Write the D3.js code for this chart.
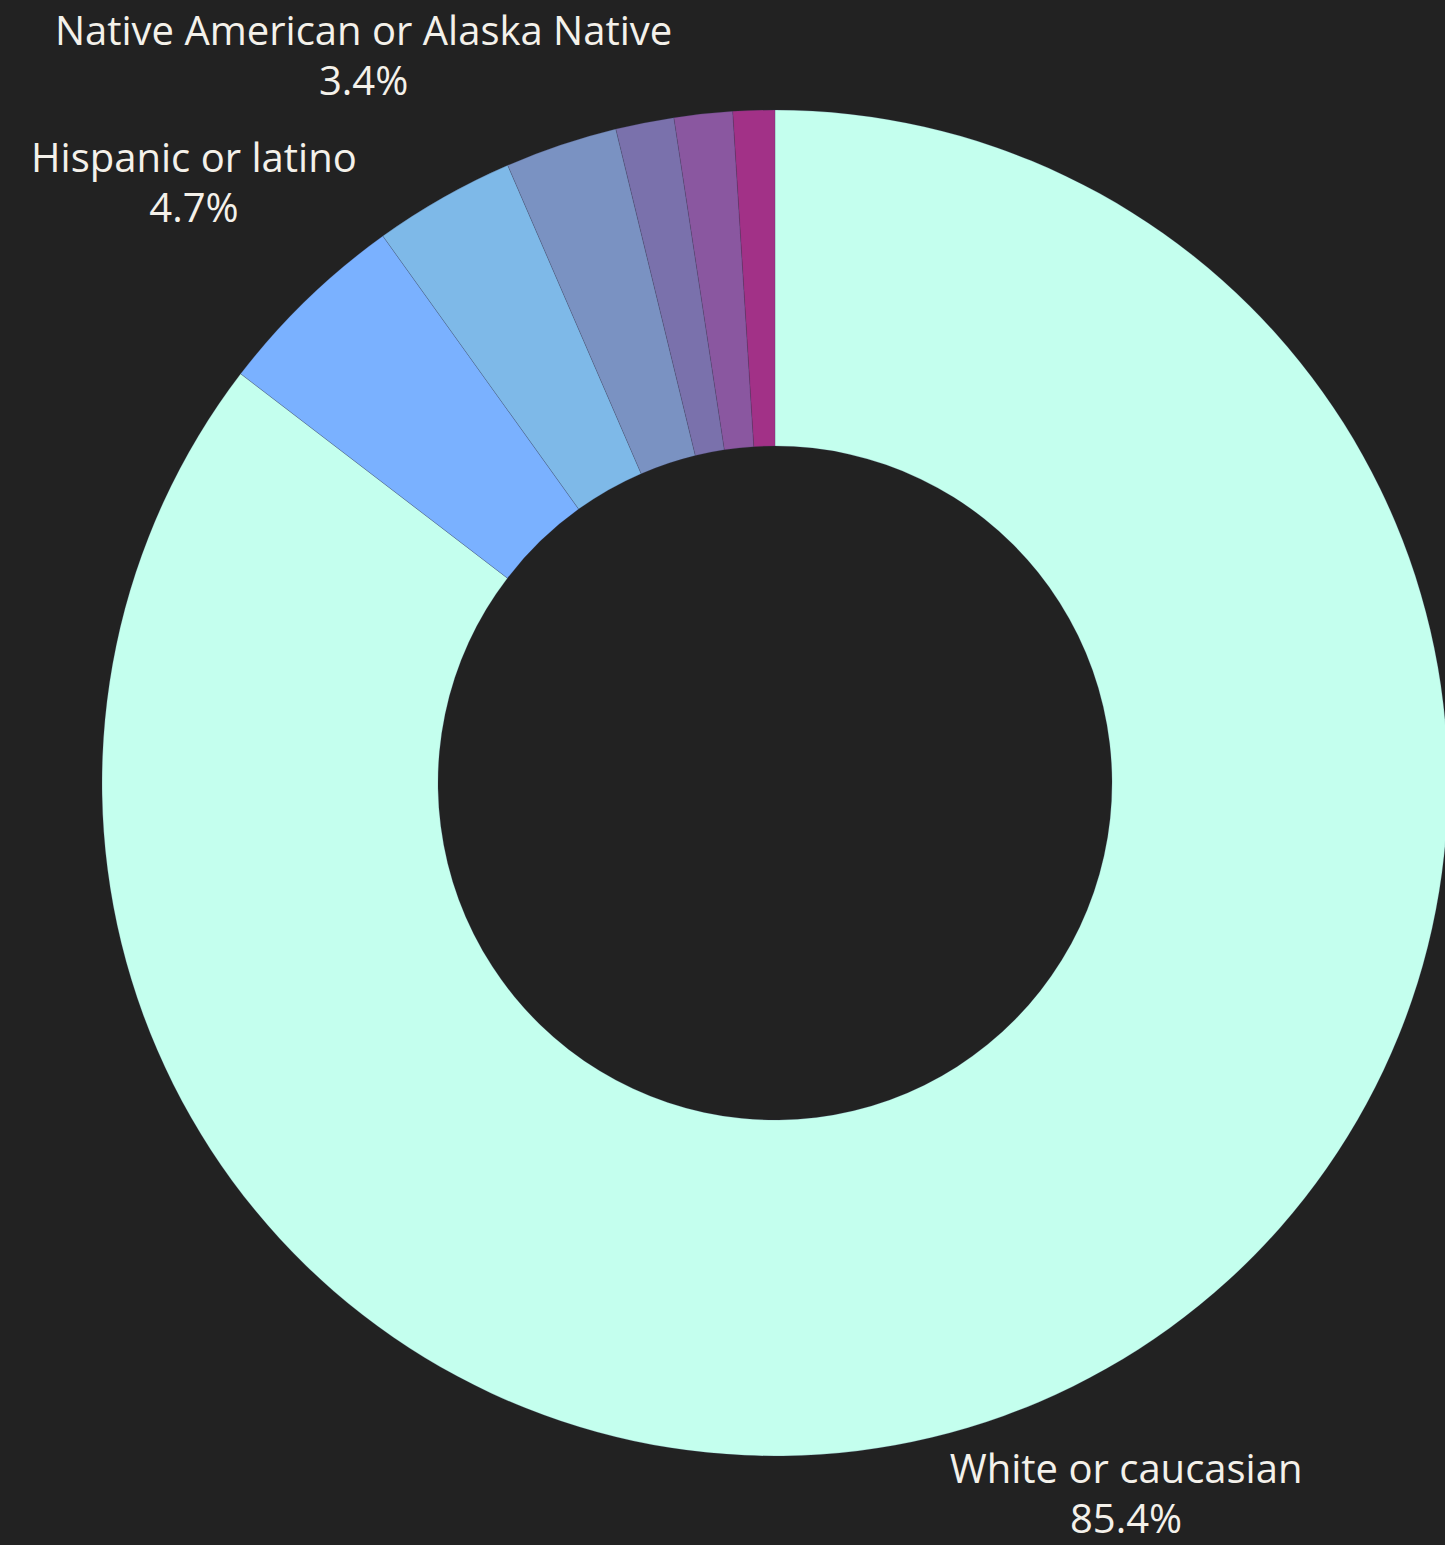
<!DOCTYPE html>
<html>
<head>
<meta charset="utf-8">
<style>
  html, body { margin: 0; padding: 0; background: #222222; }
  svg { display: block; }
</style>
<script src="https://d3js.org/d3.v7.min.js"></script>
</head>
<body>
<svg id="chart" width="1445" height="1545"></svg>
<script>
  // slice data, clockwise from 12 o'clock
  var categories = ["White or caucasian", "Hispanic or latino", "Native American or Alaska Native",
                    "Black or African American", "Asian", "Two or more races",
                    "Native Hawaiian or Pacific Islander"];
  var values = [85.4, 4.7, 3.4, 2.7, 1.4, 1.4, 1.0];
  var colors = ["#C4FFEE", "#7AB1FF", "#7EB9E8", "#7A92C2", "#7A71AC", "#8A57A0", "#A23187"];

  var svg = d3.select("#chart"),
      width = +svg.attr("width"),
      height = +svg.attr("height"),
      cx = 775, cy = 783,
      outerR = 673, innerR = 337,
      labelR = 835,
      lineGap = 50;

  var data = categories.map(function(c, i) { return {name: c, value: values[i], color: colors[i]}; });

  var pie = d3.pie().sort(null).value(function(d) { return d.value; });
  var arc = d3.arc().innerRadius(innerR).outerRadius(outerR);

  var g = svg.append("g").attr("transform", "translate(" + cx + "," + cy + ")");
  var arcs = pie(data);

  g.selectAll("path")
    .data(arcs)
    .enter().append("path")
      .attr("d", arc)
      .attr("fill", function(d) { return d.data.color; })
      .attr("stroke", "rgba(60,60,90,0.3)")
      .attr("stroke-width", 0.7);

  // labels only for the larger slices
  var labelled = arcs.filter(function(d) { return d.data.value >= 3; });

  var labels = g.selectAll("g.label")
    .data(labelled)
    .enter().append("g")
      .attr("class", "label")
      .attr("transform", function(d) {
        var a = (d.startAngle + d.endAngle) / 2,
            r = labelR;
        // pull in so the block stays on the page
        var dy = -Math.cos(a);
        if (dy > 0) r = Math.min(r, (height - 12 - 39 - cy) / dy);
        if (dy < 0) r = Math.min(r, (cy - 4 - 27) / -dy);
        return "translate(" + (r * Math.sin(a)) + "," + (r * dy) + ")";
      })
      .attr("font-family", "'Open Sans', sans-serif")
      .attr("font-size", 40)
      .attr("fill", "#F4F1EA")
      .attr("text-anchor", "middle");

  labels.append("text")
    .attr("y", -11)
    .text(function(d) { return d.data.name; });

  labels.append("text")
    .attr("y", -11 + lineGap)
    .text(function(d) { return d3.format(".1f")(d.data.value) + "%"; });
</script>
</body>
</html>
